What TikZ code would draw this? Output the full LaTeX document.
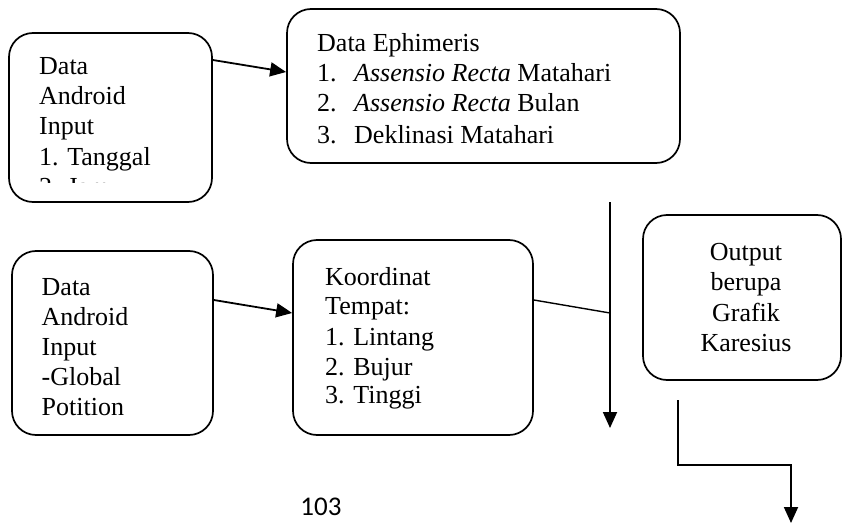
\documentclass[tikz,border=0pt]{standalone}
\usepackage{fontspec}
\setmainfont{Liberation Serif}
\newfontfamily\pagefont{Carlito}
\usetikzlibrary{arrows.meta}
\begin{document}
\begin{tikzpicture}[x=1pt,y=-1pt,
  box/.style={draw, line width=1.7pt, rounded corners=24pt, inner sep=0pt},
  txt/.style={anchor=base west, inner sep=0pt, font=\fontsize{26}{29}\selectfont},
  ctxt/.style={anchor=base, inner sep=0pt, font=\fontsize{26}{29}\selectfont},
  arr/.style={line width=1.8pt, -{Triangle[width=14pt,length=16pt]}},
  ln/.style={line width=1.4pt}]
\useasboundingbox (0,0) rectangle (843,524);

% boxes
\node[box, minimum width=203pt, minimum height=169pt] (b1) at (110.5,117.5) {};
\node[box, minimum width=393pt, minimum height=154pt] (b2) at (483.5,86) {};
\node[box, minimum width=201pt, minimum height=184pt] (b3) at (112.5,343) {};
\node[box, minimum width=240pt, minimum height=195pt] (b4) at (413,337.5) {};
\node[box, minimum width=198pt, minimum height=165pt] (b5) at (742,297.5) {};

% box 1 text (clipped)
\begin{scope}
  \clip (20,40) rectangle (205,182);
  \node[txt] (t1a) at (39,75) {Data};
  \node[txt] (t1b) at (39,105) {Android};
  \node[txt] (t1c) at (39,135) {Input};
  \node[txt] (t1d) at (39,165) {1. Tanggal};
  \node[txt] (t1e) at (39,195) {2. Jam};
\end{scope}

% box 2 text
\node[txt] (t2a) at (317,52) {Data Ephimeris};
\node[txt] (t2b) at (317,82) {1.};
\node[txt] (t2c) at (354,82) {\itshape Assensio Recta\upshape{} Matahari};
\node[txt] (t2d) at (317,112) {2.};
\node[txt] (t2e) at (354,112) {\itshape Assensio Recta\upshape{} Bulan};
\node[txt] (t2f) at (317,143) {3.};
\node[txt] (t2g) at (354,143) {Deklinasi Matahari};

% box 3 text (clipped)
\begin{scope}
  \clip (20,260) rectangle (205,418);
  \node[txt] (t3a) at (41.5,295) {Data};
  \node[txt] (t3b) at (41.5,325) {Android};
  \node[txt] (t3c) at (41.5,355) {Input};
  \node[txt] (t3d) at (41.5,385) {-Global};
  \node[txt] (t3e) at (41.5,415) {Potition};
\end{scope}

% box 4 text
\node[txt] (t4a) at (325,285) {Koordinat};
\node[txt] (t4b) at (325,314) {Tempat:};
\node[txt] (t4c) at (325,345) {1. Lintang};
\node[txt] (t4d) at (325,375) {2. Bujur};
\node[txt] (t4e) at (325,403) {3. Tinggi};

% box 5 text
\node[ctxt] (t5a) at (746,260) {Output};
\node[ctxt] (t5b) at (746,290.5) {berupa};
\node[ctxt] (t5c) at (746,321) {Grafik};
\node[ctxt] (t5d) at (746,351.5) {Karesius};

% page number
\node[anchor=base, inner sep=0pt, font=\pagefont\fontsize{27}{30}\selectfont] (pg) at (321,515) {103};

% connector points
\coordinate (vtop) at (610,202);
\coordinate (vj) at (610,313);
\coordinate (vbot) at (610,428);
\coordinate (o1) at (678,400);
\coordinate (o2) at (678,465);
\coordinate (o3) at (791,465);
\coordinate (o4) at (791,523);

% connectors
\draw[arr] (b1.east |- 0,60) -- (b2.west |- 0,72);
\draw[arr] (b3.east |- 0,300) -- (b4.west |- 0,313);
\draw[ln] (b4.east |- 0,300) -- (vj);
\draw[arr] (vtop) -- (vbot);
\draw[arr] (o1) -- (o2) -- (o3) -- (o4);
\end{tikzpicture}
\end{document}
